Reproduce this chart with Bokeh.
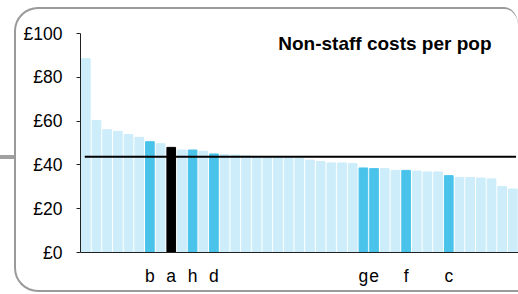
from bokeh.plotting import figure
from bokeh.models import ColumnDataSource, FixedTicker, Range1d, Label, InlineStyleSheet
from bokeh.embed import file_html
from bokeh.resources import INLINE

# ---- data ----
values = [88.5, 60.3, 56.1, 55.3, 53.9, 52.6, 50.6, 49.7, 48.0, 46.8,
          46.8, 46.2, 45.0, 44.7, 44.5, 44.2, 43.9, 43.6, 43.4, 43.2,
          42.9, 42.2, 41.6, 40.9, 40.9, 40.6, 38.6, 38.3, 38.3, 37.5,
          37.5, 37.2, 36.8, 36.8, 35.1, 34.3, 34.2, 34.0, 33.6, 30.1, 29.0]
labels = ["", "", "", "", "", "", "b", "", "a", "",
          "h", "", "d", "", "", "", "", "", "", "",
          "", "", "", "", "", "", "g", "e", "", "",
          "f", "", "", "", "c", "", "", "", "", "", ""]
subject = "a"
average = 43.7
y_ticks = [0, 20, 40, 60, 80, 100]
y_tick_labels = ["£0", "£20", "£40", "£60", "£80", "£100"]
title_text = "Non-staff costs per pop"

LIGHT = "#CDEDFA"
BLUE = "#4AC3EB"
BLACK = "#000000"

xs = list(range(1, len(values) + 1))
colors = [BLACK if l == subject else (BLUE if l else LIGHT) for l in labels]
src = ColumnDataSource(dict(x=xs, top=values, color=colors))

FONT = "Liberation Sans"

frame_css = InlineStyleSheet(css="""
:host { position: relative; }
:host::after {
  content: ''; position: absolute;
  left: 14px; top: 7px; width: 504px; height: 285px;
  border: 2px solid #9a9a9a; border-right: 0;
  border-radius: 24px; border-top-right-radius: 14px 18px;
  border-bottom-right-radius: 0;
  pointer-events: none; box-sizing: border-box; z-index: 50;
}
:host::before {
  content: ''; position: absolute; left: 0px; top: 155px;
  width: 15px; height: 4px; background: #a0a0a0; pointer-events: none;
  z-index: 50;
}
""")

p = figure(width=518, height=294, output_backend="svg", toolbar_location=None,
           x_range=Range1d(0.5, 41.53), y_range=Range1d(0, 100),
           min_border_left=80, min_border_right=0, min_border_top=33,
           min_border_bottom=42, stylesheets=[frame_css])
p.outline_line_color = None
p.grid.visible = False
p.background_fill_color = "white"
p.border_fill_color = "white"

p.vbar(x="x", top="top", width=0.81, bottom=0, color="color", source=src)

# average line
p.line([0.9, 41.3], [average, average], line_color="black", line_width=2)

# y axis
ya = p.yaxis[0]
ya.ticker = FixedTicker(ticks=y_ticks)
ya.major_label_overrides = {t: l for t, l in zip(y_ticks, y_tick_labels)}
ya.minor_tick_line_color = None
ya.major_tick_in = 0
ya.major_tick_out = 4
ya.major_label_standoff = 14
ya.axis_line_color = "#222222"
ya.major_tick_line_color = "#222222"
ya.major_label_text_font = FONT
ya.major_label_text_font_size = "17.5px"
ya.major_label_text_color = "black"

# x axis
lab_pos = [x for x, l in zip(xs, labels) if l]
xa = p.xaxis[0]
xa.ticker = FixedTicker(ticks=lab_pos)
xa.major_label_overrides = {x: l for x, l in zip(xs, labels) if l}
xa.minor_tick_line_color = None
xa.major_tick_in = 0
xa.major_tick_out = 0
xa.major_label_standoff = 13
xa.axis_line_color = "#222222"
xa.major_label_text_font = FONT
xa.major_label_text_font_size = "17.5px"
xa.major_label_text_color = "black"

# title inside plot
p.add_layout(Label(x=39.0, y=95.6, text=title_text, text_align="right",
                   text_baseline="alphabetic", text_font=FONT,
                   text_font_size="19px", text_font_style="bold",
                   text_color="black"))

open("out.html", "w").write(file_html(p, INLINE))
